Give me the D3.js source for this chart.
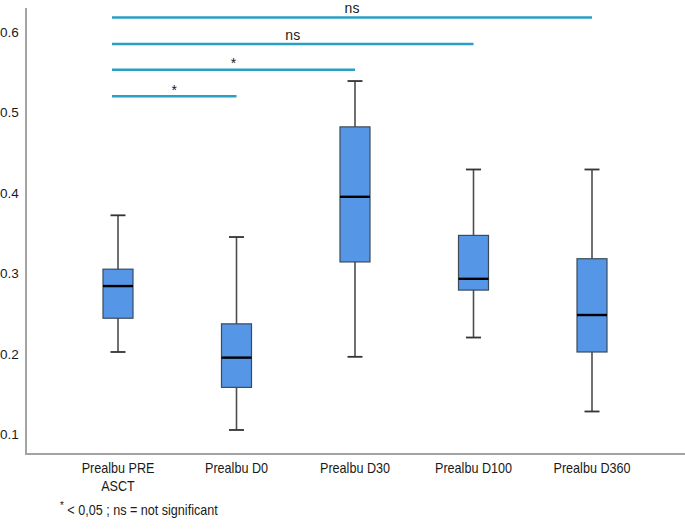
<!DOCTYPE html>
<html>
<head>
<meta charset="utf-8">
<script src="https://cdn.jsdelivr.net/npm/d3@7"></script>
<style>
  body { margin: 0; background: #fff; }
  text { font-family: "Liberation Sans", Arial, sans-serif; fill: #1a1a1a; }
</style>
</head>
<body>
<svg id="chart" width="685" height="532"></svg>
<script>
// categories and box statistics
const categories = ["Prealbu PRE ASCT", "Prealbu D0", "Prealbu D30", "Prealbu D100", "Prealbu D360"];
const labelLines = [["Prealbu PRE", "ASCT"], ["Prealbu D0"], ["Prealbu D30"], ["Prealbu D100"], ["Prealbu D360"]];
const whiskerLow = [0.202, 0.105, 0.196, 0.220, 0.128];
const q1 = [0.244, 0.158, 0.314, 0.279, 0.202];
const median = [0.284, 0.195, 0.395, 0.293, 0.248];
const q3 = [0.305, 0.237, 0.482, 0.347, 0.318];
const whiskerHigh = [0.372, 0.345, 0.539, 0.429, 0.429];
const yTicks = [0.1, 0.2, 0.3, 0.4, 0.5, 0.6];

// significance brackets: from first category to target
const sigTargets = ["Prealbu D0", "Prealbu D30", "Prealbu D100", "Prealbu D360"];
const sigLevels = [0.520, 0.553, 0.585, 0.618];
const sigLabels = ["*", "*", "ns", "ns"];

const svg = d3.select("#chart");

const y = d3.scaleLinear().domain([0.1, 0.6]).range([434, 32]);
const x = d3.scalePoint().domain(categories).range([118, 592]);

const boxW = 30, capW = 15;
const squeeze = 0.9; // label font in the figure is a bit narrower

// axes frame
svg.append("line")
    .attr("x1", 26).attr("x2", 26).attr("y1", 8).attr("y2", 454)
    .attr("stroke", "#a3a3a3").attr("stroke-width", 2);
svg.append("line")
    .attr("x1", 25).attr("x2", 685).attr("y1", 454).attr("y2", 454)
    .attr("stroke", "#a3a3a3").attr("stroke-width", 2);

// y tick labels
svg.selectAll(".ytick")
    .data(yTicks)
    .enter().append("text")
    .attr("class", "ytick")
    .attr("x", 0)
    .attr("y", d => y(d) + 5)
    .attr("font-size", 13.5)
    .text(d => d.toFixed(1));

// boxes
const boxes = svg.selectAll(".box")
    .data(categories)
    .enter().append("g")
    .attr("class", "box");

boxes.append("line")
    .attr("x1", d => x(d)).attr("x2", d => x(d))
    .attr("y1", (d, i) => y(whiskerHigh[i])).attr("y2", (d, i) => y(whiskerLow[i]))
    .attr("stroke", "#4d4d4d").attr("stroke-width", 1.6);

[whiskerLow, whiskerHigh].forEach(arr => {
    boxes.append("line")
        .attr("x1", d => x(d) - capW / 2).attr("x2", d => x(d) + capW / 2)
        .attr("y1", (d, i) => y(arr[i])).attr("y2", (d, i) => y(arr[i]))
        .attr("stroke", "#333").attr("stroke-width", 1.8);
});

boxes.append("rect")
    .attr("x", d => x(d) - boxW / 2)
    .attr("width", boxW)
    .attr("y", (d, i) => y(q3[i]))
    .attr("height", (d, i) => y(q1[i]) - y(q3[i]))
    .attr("fill", "#5596e6")
    .attr("stroke", "#3d4a5a").attr("stroke-width", 1.2);

boxes.append("line")
    .attr("x1", d => x(d) - boxW / 2).attr("x2", d => x(d) + boxW / 2)
    .attr("y1", (d, i) => y(median[i])).attr("y2", (d, i) => y(median[i]))
    .attr("stroke", "#000").attr("stroke-width", 2.4);

// significance lines
const x0 = x(categories[0]) - 6;
sigTargets.forEach((t, i) => {
    const x1 = x(t);
    const ly = y(sigLevels[i]);
    svg.append("line")
        .attr("x1", x0).attr("x2", x1).attr("y1", ly).attr("y2", ly)
        .attr("stroke", "#2a9fc4").attr("stroke-width", 2.4);
    const star = sigLabels[i] === "*";
    svg.append("text")
        .attr("x", (x0 + x1) / 2)
        .attr("y", star ? ly - 1.5 : ly - 4.5)
        .attr("text-anchor", "middle")
        .attr("font-size", star ? 14 : 14)
        .text(sigLabels[i]);
});

// x labels
const xl = svg.selectAll(".xlab")
    .data(categories)
    .enter().append("text")
    .attr("class", "xlab")
    .attr("text-anchor", "middle")
    .attr("font-size", 14)
    .attr("transform", d => `translate(${x(d)},0) scale(${squeeze},1)`);
xl.each(function(d, i) {
    d3.select(this).selectAll("tspan")
        .data(labelLines[i])
        .enter().append("tspan")
        .attr("x", 0)
        .attr("y", (s, j) => 473 + j * 18)
        .text(s => s);
});

// footnote
const fn = svg.append("text")
    .attr("transform", `translate(60,515) scale(${squeeze},1)`)
    .attr("font-size", 14);
fn.append("tspan").attr("font-size", 11).attr("dy", -6).text("*");
fn.append("tspan").attr("dy", 6).text(" < 0,05 ; ns = not significant");
</script>
</body>
</html>
